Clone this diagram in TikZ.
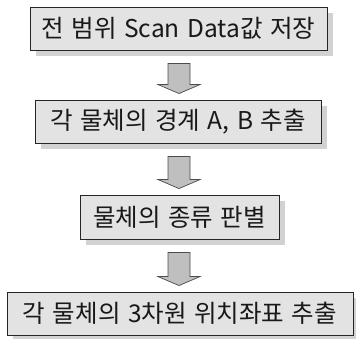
\documentclass[tikz,border=0pt]{standalone}
\usepackage{fontspec}
\setmainfont{Noto Sans CJK KR}
\usetikzlibrary{shadows,calc}
\newcommand\myboxfont{\fontsize{24.5}{27}\selectfont\spaceskip=7.5pt\relax}
\begin{document}
\begin{tikzpicture}[x=1pt,y=-1pt,
  box/.style={draw=black!85, line width=0.9pt, fill=gray!22, inner sep=0pt,
    minimum height=43pt, text=black!90,
    font=\myboxfont,
    drop shadow={shadow xshift=6pt, shadow yshift=-6pt, fill=gray!35, opacity=1}},
  blockarrow/.style={draw=black!70, line width=0.7pt, fill=gray!50, line join=miter}]
\useasboundingbox (0,0) rectangle (356,339);
\node[box, minimum width=297pt] (b1) at (178.5,28.5) {전 범위 Scan Data값 저장};
\node[box, minimum width=286pt] (b2) at (178,121.5) {각 물체의 경계 A, B 추출};
\node[box, minimum width=199pt, minimum height=44pt] (b3) at (179.5,217) {물체의 종류 판별};
\node[box, minimum width=346pt] (b4) at (180,313.5) {각 물체의 3차원 위치좌표 추출};
\foreach \a/\b in {b1/b2, b2/b3, b3/b4}{
  \draw[blockarrow] let \p1=(\a.south), \p2=(\b.north) in
    (179pt-11pt,\y1-13pt) -- (179pt+11pt,\y1-13pt) -- (179pt+11pt,\y2+15pt)
    -- (179pt+21pt,\y2+15pt) -- (179pt,\y2+6pt) -- (179pt-21pt,\y2+15pt)
    -- (179pt-11pt,\y2+15pt) -- cycle;
}
\end{tikzpicture}
\end{document}
